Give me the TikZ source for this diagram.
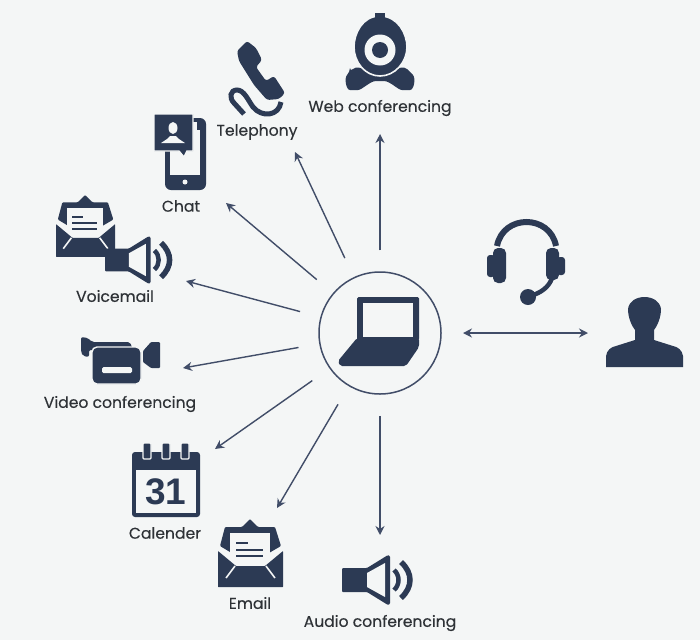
\documentclass[tikz,border=0pt]{standalone}
\usepackage{fontspec}
\setmainfont{Poppins}[FakeBold=0.25]
\newfontfamily\datefont{Liberation Sans}
\usetikzlibrary{arrows.meta}
\definecolor{paper}{HTML}{F4F6F6}
\definecolor{iconblue}{HTML}{2C3A54}
\definecolor{lineblue}{HTML}{414D68}
\definecolor{textgrey}{HTML}{2E3236}

\begin{document}
\begin{tikzpicture}[
    x=1pt, y=-1pt,
    >={Stealth[length=9pt, width=9pt]},
    ink/.style={fill=iconblue, draw=none},
    gap/.style={fill=paper, draw=none},
    inkline/.style={draw=iconblue, line width=#1},
    gapline/.style={draw=paper, line width=#1},
    caption/.style={font=\fontsize{15.6}{17}\selectfont, text=textgrey, inner sep=0pt},
    spoke/.style={->, draw=lineblue, line width=1.4pt, shorten <=21pt},
    hubcircle/.style={circle, draw=lineblue, line width=1.5pt, minimum size=122pt, inner sep=0pt}
]

% Repeated Icons
\tikzset{
    envelope/.pic={
        \fill[ink, rounded corners=1pt] (2,27) -- (7,8) -- (24,8) -- (32,0) -- (40,8) -- (57,8) -- (63,27) -- (32,45) -- cycle;
        \fill[gap] (12,14) rectangle (52,47);
        \fill[ink, rounded corners=0.5pt] (0,32) -- (18,47) -- (47,47) -- (65,32) -- (65,68) -- (0,68) -- cycle;
        \draw[gapline=1.6pt] (8,59) -- (17,47);
        \draw[gapline=1.6pt] (57,59) -- (48,47);
        \draw[inkline=2.2pt] (18,24) -- (30,24);
        \draw[inkline=2.2pt] (18,31) -- (45,31);
        \draw[inkline=2.2pt] (18,37) -- (45,37);
    },
    speaker/.pic={
        \fill[ink, rounded corners=1pt] (0,-12) -- (25,-12) -- (46,-25) -- (48,-24) -- (48,24) -- (46,25) -- (25,12) -- (0,12) -- cycle;
        \fill[gap] (25,-7) -- (43,-17) -- (43,17) -- (25,7) -- cycle;
        \draw[inkline=4.5pt] (52,-10) .. controls (58,-5) and (58,5) .. (52,10);
        \draw[inkline=5.5pt] (59,-18) .. controls (71,-7) and (71,7) .. (59,18);
    }
}

\fill[paper] (0,0) rectangle (700,640);

\node[hubcircle] (hub) at (380,333) {};

% Laptop
\fill[ink, rounded corners=1.5pt] (357,297) rectangle (419,340);
\fill[gap] (363,303) rectangle (413,337);
\fill[ink, rounded corners=2pt] (338,361) -- (357,338) -- (419,338) -- (419,347) -- (406,366) -- (340,366) -- cycle;

% Web camera
\fill[ink, rounded corners=4pt] (350,72) .. controls (356,66) and (362,68) .. (368,72) -- (392,72) .. controls (398,68) and (404,66) .. (410,72) .. controls (416,78) and (414,90) .. (406,90) .. controls (398,90) and (390,81) .. (380,81) .. controls (370,81) and (362,90) .. (354,90) .. controls (346,90) and (344,78) .. (350,72) -- cycle;
\draw[ink, draw=paper, line width=1.6pt] (380,16) .. controls (398,16) and (407,34) .. (407,47) .. controls (407,62) and (395,76) .. (380,76) .. controls (365,76) and (354,62) .. (354,47) .. controls (354,34) and (362,16) .. (380,16) -- cycle;
\fill[ink] (375,13) rectangle (385,20);
\fill[gap] (380,50) circle (15.5);
\fill[ink] (380,50) circle (8);

% Telephone
\fill[ink, rounded corners=2.5pt] (237,51) -- (247,41) -- (256,48) -- (262,60) -- (256,67) -- (266,81) -- (274,76) -- (285,93) -- (279,99) -- (267,100) -- (254,85) -- (239,61) -- cycle;
\draw[inkline=5pt] (281,102) .. controls (279,116) and (262,118) .. (253,107) .. controls (248,100) and (244,90) .. (237,90) .. controls (230,90) and (229,98) .. (234,103) -- (244,114);

% Chat phone
\fill[ink, rounded corners=6pt] (165,118) rectangle (206,190);
\fill[gap] (170,122) -- (200,122) -- (200,175) -- (170,175) -- cycle;
\fill[ink] (197,118) -- (200,118) -- (200,130) -- (197,130) -- cycle;
\fill[gap] (185,182) circle (2.5);
\draw[ink, draw=paper, line width=1.4pt] (154,114) -- (193,114) -- (193,151) -- (187,151) -- (184,157) -- (179,151) -- (154,151) -- cycle;
\fill[gap] (173,128) ellipse (4.5 and 6);
\fill[gap] (161,143) -- (167,139) -- (170,136) -- (176,136) -- (179,139) -- (185,143) -- cycle;

% Voicemail
\pic (VoiceEnvelope) at (56,195) [scale=0.91] {envelope};
\pic (VoiceSpeaker) at (105,260) [scale=0.95] {speaker};

% Video camera
\fill[ink, rounded corners=2pt] (81,337) -- (88,338) -- (92,342) -- (130,342) -- (133,350) -- (89,350) -- (89,357) -- (83,356) -- (81,352) -- cycle;
\draw[ink, draw=paper, line width=1.4pt, rounded corners=5pt] (92,347) rectangle (141,384);
\fill[gap, rounded corners=1.5pt] (102,367) rectangle (132,373);
\fill[ink, rounded corners=1pt] (143,351) -- (151,342) -- (160,342) -- (160,368) -- (151,368) -- (143,362) -- cycle;

% Calendar
\fill[ink, rounded corners=3pt] (132,452) rectangle (200,517);
\fill[gap] (136,470) rectangle (196,513);
\draw[ink, draw=paper, line width=1.2pt, rounded corners=1pt] (143,443) rectangle (151,459);
\draw[ink, draw=paper, line width=1.2pt, rounded corners=1pt] (162,443) rectangle (170,459);
\draw[ink, draw=paper, line width=1.2pt, rounded corners=1pt] (181,443) rectangle (189,459);
\node[font=\datefont\bfseries\fontsize{37}{37}\selectfont, text=iconblue, inner sep=0pt] (CalDate) at (166,492) {31};

% Email
\pic (MailEnvelope) at (218,519) {envelope};

% Audio speaker
\pic (AudioSpeaker) at (342,580) {speaker};

% Headset
\draw[inkline=6pt] (497,246) .. controls (503,214) and (550,214) .. (556,246);
\fill[ink, rounded corners=5pt] (493,248) rectangle (506,283);
\fill[ink, rounded corners=3pt] (487,255) rectangle (495,277);
\fill[ink, rounded corners=5pt] (546,248) rectangle (559,280);
\fill[ink, rounded corners=3pt] (557,257) rectangle (565,275);
\draw[inkline=4.5pt] (552,278) .. controls (549,287) and (541,293) .. (530,296);
\fill[ink] (528,297) circle (8);

% Person
\fill[ink] (606,367) -- (606,356) .. controls (607,350) and (611,347) .. (616,346) -- (635,340) -- (635,330) .. controls (629,322) and (628,313) .. (628,309) .. controls (630,293) and (659,293) .. (661,309) .. controls (661,313) and (660,322) .. (654,330) -- (654,340) -- (673,346) .. controls (678,347) and (682,350) .. (683,356) -- (683,367) -- cycle;

\node[caption] (WebLabel) at (380,108) {Web conferencing};
\node[caption] (PhoneLabel) at (257,132) {Telephony};
\node[caption] (ChatLabel) at (181,206) {Chat};
\node[caption] (VoiceLabel) at (115,296) {Voicemail};
\node[caption] (VideoLabel) at (120,404) {Video conferencing};
\node[caption] (CalLabel) at (165,533) {Calender};
\node[caption] (MailLabel) at (250,603) {Email};
\node[caption] (AudioLabel) at (380,623) {Audio conferencing};

\coordinate (WebTip) at (380,134);
\coordinate (PhoneTip) at (295,152);
\coordinate (ChatTip) at (226,203);
\coordinate (VoiceTip) at (186,281);
\coordinate (VideoTip) at (183,368);
\coordinate (CalTip) at (215,449);
\coordinate (MailTip) at (277,508);
\coordinate (AudioTip) at (380,535);
\coordinate (LinkLeft) at (463,333);
\coordinate (LinkRight) at (588,333);

\draw[spoke] (hub) -- (WebTip);
\draw[spoke] (hub) -- (PhoneTip);
\draw[spoke] (hub) -- (ChatTip);
\draw[spoke] (hub) -- (VoiceTip);
\draw[spoke] (hub) -- (VideoTip);
\draw[spoke] (hub) -- (CalTip);
\draw[spoke] (hub) -- (MailTip);
\draw[spoke] (hub) -- (AudioTip);

\draw[<->, draw=lineblue, line width=1.4pt] (LinkLeft) -- (LinkRight);

\end{tikzpicture}
\end{document}
